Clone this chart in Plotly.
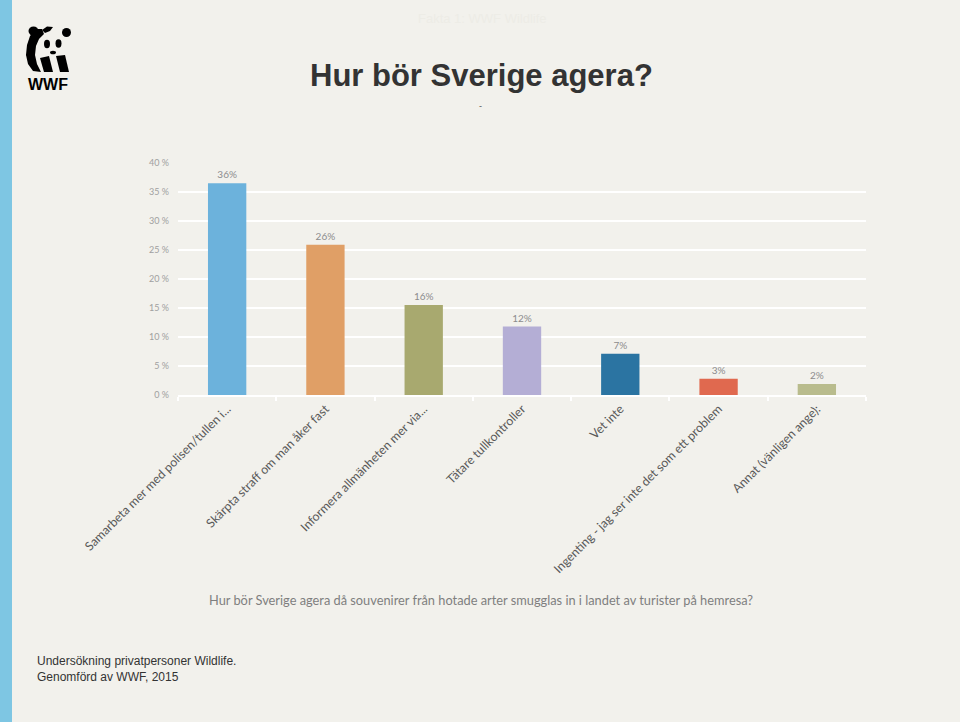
import plotly.graph_objects as go

# ---------------- data ----------------
categories = [
    "Samarbeta mer med polisen/tullen i...",
    "Skärpta straff om man åker fast",
    "Informera allmänheten mer via...",
    "Tätare tullkontroller",
    "Vet inte",
    "Ingenting - jag ser inte det som ett problem",
    "Annat (vänligen ange):",
]
values = [36.5, 25.9, 15.5, 11.8, 7.1, 2.8, 1.9]
value_labels = ["36%", "26%", "16%", "12%", "7%", "3%", "2%"]
bar_colors = ["#6CB2DC", "#E09F66", "#A8A96F", "#B4AED5", "#2B74A2", "#E0694F", "#B9BC8D"]
y_ticks = [0, 5, 10, 15, 20, 25, 30, 35, 40]
y_tick_labels = ["0 %", "5 %", "10 %", "15 %", "20 %", "25 %", "30 %", "35 %", "40 %"]

title_text = "Hur bör Sverige agera?"
x_title_text = "Hur bör Sverige agera då souvenirer från hotade arter smugglas in i landet av turister på hemresa?"
footer_lines = ["Undersökning privatpersoner Wildlife.", "Genomförd av WWF, 2015"]
header_text = "Fakta 1: WWF Wildlife"

W, H = 960, 722
BG = "#F2F1EC"


def px(x):
    return x / W


def py(y):
    return 1 - y / H


fig = go.Figure()
fig.add_trace(go.Bar(
    x=categories,
    y=values,
    marker=dict(color=bar_colors, line=dict(width=0)),
    text=value_labels,
    textposition="outside",
    textfont=dict(family="Lato, Open Sans, sans-serif", size=10, color="#8C8C8C"),
    cliponaxis=False,
    hoverinfo="x+y",
))

shapes = []
# left blue stripe
shapes.append(dict(type="rect", xref="paper", yref="paper", x0=0, x1=px(12), y0=0, y1=1,
                   fillcolor="#7EC6E3", line=dict(width=0), layer="below"))


def path(points):
    return "M " + " L ".join(f"{px(x):.5f},{py(y):.5f}" for x, y in points) + " Z"


def ellipse(cx, cy, rx, ry, color="black"):
    return dict(type="circle", xref="paper", yref="paper",
                x0=px(cx - rx), x1=px(cx + rx), y0=py(cy + ry), y1=py(cy - ry),
                fillcolor=color, line=dict(width=0))


def poly(points, color="black"):
    return dict(type="path", xref="paper", yref="paper", path=path(points),
                fillcolor=color, line=dict(width=0))


# simplified WWF panda
shapes.append(poly([(36, 29), (30, 36), (27, 45), (26, 55), (28, 64), (33, 71),
                    (41, 72), (37, 64), (35, 55), (36, 46), (39, 39), (44, 34), (42, 29)]))
shapes.append(ellipse(33.5, 31, 5, 4.5))
shapes.append(poly([(42, 30), (47, 26.5), (53, 27), (50, 31), (45, 33)]))
shapes.append(ellipse(66.5, 32.5, 4.5, 4.5))
shapes.append(ellipse(47, 44, 3, 4.2))
shapes.append(ellipse(58.5, 43.5, 3, 4.2))
shapes.append(ellipse(53, 52.5, 3, 1.8))
shapes.append(poly([(40, 58), (49, 56), (53, 72), (44, 72)]))
shapes.append(poly([(56, 56), (65, 55), (69, 72), (60, 72)]))

annotations = [
    dict(text="<b>WWF</b>", x=px(48), y=py(84), xref="paper", yref="paper",
         showarrow=False, font=dict(family="Liberation Sans, Arial, sans-serif", size=16, color="black"),
         xanchor="center", yanchor="middle"),
    dict(text=header_text, x=px(482), y=py(19), xref="paper", yref="paper",
         showarrow=False, font=dict(family="Liberation Sans, Arial", size=13, color="#EDECE6"),
         xanchor="center", yanchor="middle"),
    dict(text="<b>" + title_text + "</b>", x=px(481), y=py(75), xref="paper", yref="paper",
         showarrow=False, font=dict(family="Liberation Sans, Arial, sans-serif", size=31, color="#333333"),
         xanchor="center", yanchor="middle"),
    dict(text="-", x=px(480), y=py(106), xref="paper", yref="paper",
         showarrow=False, font=dict(family="Liberation Sans, Arial", size=9, color="#555555"),
         xanchor="center", yanchor="middle"),
    dict(text=x_title_text, x=px(481), y=py(600), xref="paper", yref="paper",
         showarrow=False, font=dict(family="Lato, Open Sans, sans-serif", size=12.8, color="#7F7F7F"),
         xanchor="center", yanchor="middle"),
    dict(text="<br>".join(footer_lines), x=px(35), y=py(669), xref="paper", yref="paper",
         showarrow=False, align="left",
         font=dict(family="Liberation Sans Narrow, Arial Narrow, Liberation Sans, sans-serif", size=12, color="#333333"),
         xanchor="left", yanchor="middle"),
]

fig.update_layout(
    width=W, height=H,
    autosize=False,
    margin=dict(l=0, r=0, t=0, b=0),
    paper_bgcolor=BG,
    plot_bgcolor=BG,
    showlegend=False,
    bargap=0.61,
    shapes=shapes,
    annotations=annotations,
    xaxis=dict(
        domain=[px(178), px(866)],
        automargin=False,
        tickangle=-45,
        tickfont=dict(family="Lato, Open Sans, sans-serif", size=12.3, color="#595959"),
        showline=True, linecolor="#FFFFFF", linewidth=2,
        ticks="outside", tickson="boundaries", ticklen=4, tickcolor="#FFFFFF", tickwidth=2,
        showgrid=False, zeroline=False,
        fixedrange=True,
    ),
    yaxis=dict(
        domain=[py(395), py(163)],
        automargin=False,
        range=[0, 40],
        tickvals=y_ticks,
        ticktext=y_tick_labels,
        tickfont=dict(family="Lato, Open Sans, sans-serif", size=9, color="#A0A0A0"),
        showgrid=True, gridcolor="#FFFFFF", gridwidth=2,
        zeroline=False, showline=False, ticks="",
        ticklabelstandoff=8,
        fixedrange=True,
    ),
)

fig.write_html("out.html", config={"displayModeBar": False},
               post_script="document.body.style.margin='0';")
